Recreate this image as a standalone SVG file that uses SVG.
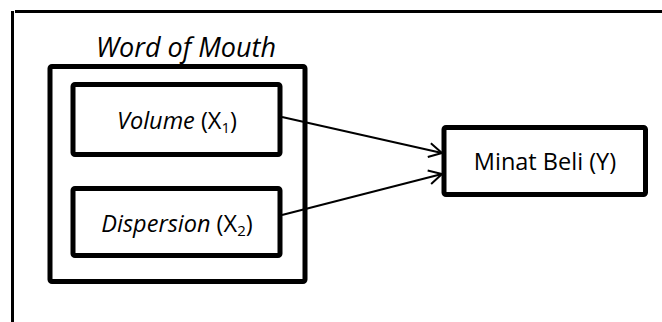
<svg xmlns="http://www.w3.org/2000/svg" width="662" height="322" viewBox="0 0 662 322">
<defs>
<style>
.box{fill:#fff;stroke:#000;stroke-width:5;}
.frame{stroke:#000;stroke-width:3;fill:none;}
.t{font-family:"Open Sans","Liberation Sans",sans-serif;font-size:23.5px;fill:#000;text-anchor:middle;}
.title{font-size:27px;}
.i{font-style:italic;}
.sub{font-size:15px;}
.con{stroke:#000;stroke-width:2;fill:none;}
</style>
<marker id="arr" viewBox="0 0 16 16" refX="14" refY="8" markerWidth="16" markerHeight="16" markerUnits="userSpaceOnUse" orient="auto">
<path d="M1,1 L14,8 L1,15" fill="none" stroke="#000" stroke-width="2"/>
</marker>
</defs>
<rect width="662" height="322" fill="#fff"/>
<g id="frame">
<line class="frame" x1="12.5" y1="11" x2="12.5" y2="322"/>
<line class="frame" x1="15" y1="11.5" x2="662" y2="11.5"/>
</g>
<g id="word-of-mouth">
<text class="t title i" x="186" y="57">Word of Mouth</text>
<rect class="box" x="50" y="66.5" width="255" height="215" rx="2"/>
</g>
<g id="volume">
<rect class="box" x="73" y="84.5" width="207" height="70" rx="2"/>
<text class="t" x="177" y="129"><tspan class="i">Volume</tspan> (X<tspan class="sub" dy="4">1</tspan><tspan dy="-4">)</tspan></text>
</g>
<g id="dispersion">
<rect class="box" x="73" y="188.5" width="207" height="67" rx="2"/>
<text class="t" x="177" y="232"><tspan class="i">Dispersion</tspan> (X<tspan class="sub" dy="4">2</tspan><tspan dy="-4">)</tspan></text>
</g>
<g id="minat-beli">
<rect class="box" x="444" y="127.5" width="201.5" height="67" rx="2"/>
<text class="t" x="545" y="170">Minat Beli (Y)</text>
</g>
<g id="connectors">
<line class="con" x1="282" y1="117" x2="442" y2="153" marker-end="url(#arr)"/>
<line class="con" x1="282" y1="215" x2="442" y2="174" marker-end="url(#arr)"/>
</g>
</svg>
